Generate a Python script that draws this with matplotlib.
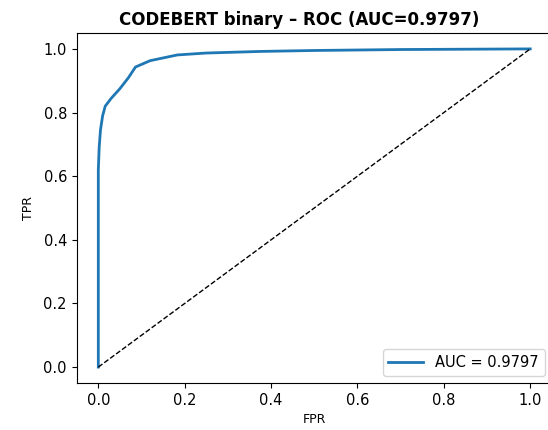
import matplotlib
matplotlib.use("Agg")
import matplotlib.pyplot as plt

# ROC points
fpr = [0.0, 0.0, 0.002, 0.005, 0.01, 0.016, 0.03, 0.05, 0.07, 0.086, 0.12, 0.183, 0.25, 0.375, 0.5, 0.7, 1.0]
tpr = [0.0, 0.62, 0.69, 0.745, 0.79, 0.82, 0.845, 0.875, 0.91, 0.943, 0.963, 0.981, 0.987, 0.992, 0.995, 0.998, 1.0]
auc = 0.9797

fig = plt.figure(figsize=(5.48, 4.30), dpi=100)
ax = fig.add_axes([0.14, 0.1093, 0.867, 0.814])
ax.plot(fpr, tpr, color="#1f77b4", linewidth=2, label=f"AUC = {auc:.4f}")
ax.plot([0, 1], [0, 1], "k--", linewidth=1)
ax.set_xlim(-0.05, 1.05)
ax.set_ylim(-0.05, 1.05)
ax.set_xlabel("FPR", fontsize=9)
ax.set_ylabel("TPR", fontsize=9, labelpad=6)
ax.tick_params(labelsize=10.5)
ax.set_title(f"CODEBERT binary – ROC (AUC={auc:.4f})", fontweight="bold", fontsize=12, x=0.469)
ax.legend(loc="lower right", fontsize=10.5, handlelength=2.4)
fig.savefig("out.png", dpi=100)
